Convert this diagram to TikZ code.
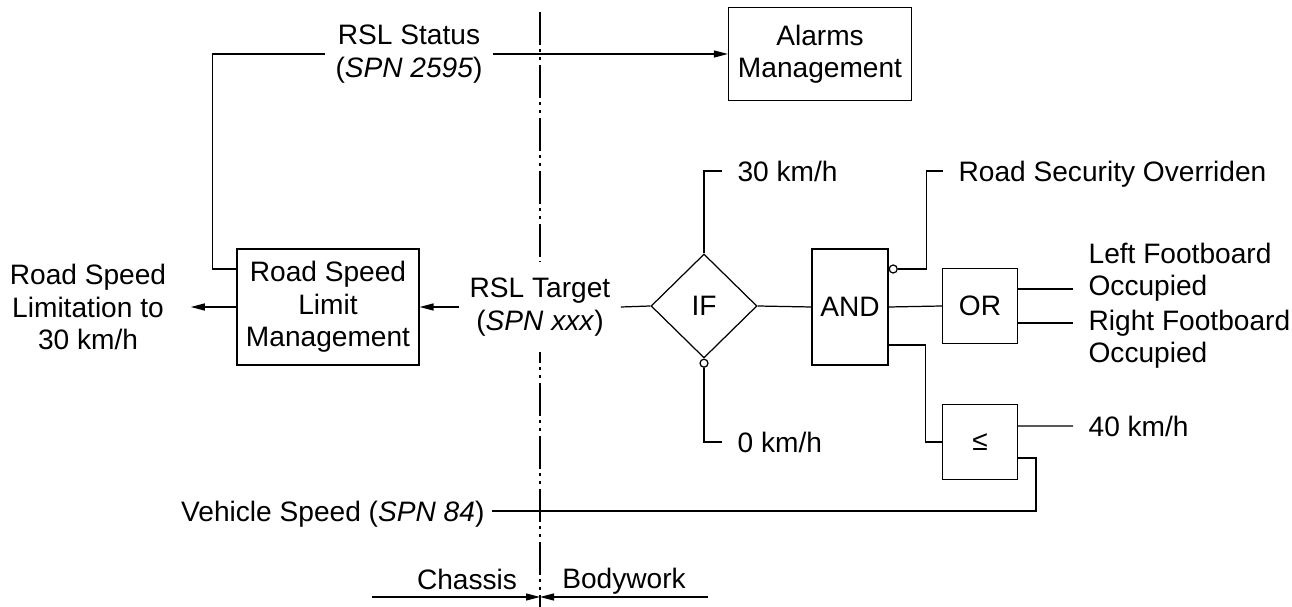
\documentclass[tikz,border=0pt]{standalone}
\usepackage{fontspec}
\setmainfont{Liberation Sans}
\usetikzlibrary{arrows.meta}
\usetikzlibrary{shapes.geometric}
\usetikzlibrary{positioning}

\begin{document}
\begin{tikzpicture}[x=0.02cm, y=-0.02cm, font=\fontsize{16}{18.5}\selectfont, line width=0.7pt,
    >={Triangle[length=0.28cm,width=0.14cm]}]
  \tikzset{block/.style={draw, align=center, inner sep=0pt},
           sig/.style={anchor=west, align=left, inner xsep=0.3cm, inner ysep=0pt},
           line1/.style={text height=11.5pt, text depth=0pt},
           neg/.style={draw, circle, fill=white, inner sep=0pt, minimum size=0.16cm},
           lbl/.style={align=center, inner xsep=0.2cm},
           border/.style={dash pattern=on 0.66cm off 0.09cm on 0.06cm off 0.09cm on 0.06cm off 0.1cm}}

  \useasboundingbox (0,0) rectangle (1292,607);

  \coordinate (top) at (540,12);
  \coordinate (bot) at (540,607);
  \draw[border] (top) -- (bot);

  \node[lbl] (status) at (409,54) {RSL Status\\(\textit{SPN 2595})};
  \node[block, minimum width=3.66cm, minimum height=1.86cm] (alarm) at (820,54) {Alarms\\Management};
  \node[block, minimum width=3.64cm, minimum height=2.32cm] (rslm) at (328,307) {Road Speed\\Limit\\Management};
  \node[lbl, inner xsep=0.48cm] (out) at (88,307) {Road Speed\\Limitation to\\30 km/h};
  \node[lbl, fill=white, minimum height=1.82cm] (target) at (540,307) {RSL Target\\(\textit{SPN xxx})};

  \node[draw, diamond, inner sep=0pt, minimum width=2.12cm, minimum height=2.08cm] (if) at (704,306) {IF};
  \node[block, minimum width=1.52cm, minimum height=2.32cm] (and) at (850,307) {AND};
  \node[block, minimum size=1.5cm] (or) at (980,306) {OR};
  \node[block, minimum size=1.5cm] (le) at (980,442) {≤};

  \node[sig, line1] (k30) at (722,171) {30 km/h};
  \node[sig, line1] (k0) at (722,442) {0 km/h};
  \node[sig, line1] (rso) at (943,171) {Road Security Overriden};
  \node[sig] (lfo) at (1073,272) {Left Footboard\\Occupied};
  \node[sig] (rfo) at (1073,339) {Right Footboard\\Occupied};
  \node[sig, line1] (k40) at (1073,426) {40 km/h};
  \node[line1, anchor=east, inner xsep=0.14cm] (vs) at (492,511) {Vehicle Speed (\textit{SPN 84})};

  \node[line1] (chassis) at (467,579) {Chassis};
  \node[line1] (body) at (624,578) {Bodywork};
  \coordinate (chl) at (372,597);
  \coordinate (bwr) at (708,597);
  \coordinate (mid) at (540,597);

  \draw[->] (rslm.west) -- (out.east);
  \draw ([yshift=0.76cm]rslm.west) -- ++(-0.48cm,0) |- (status.west);
  \draw[->] (status.east) -- (alarm.west);
  \draw[->] (target.west) -- (rslm.east);
  \draw (target.east) -- (if.west);
  \draw (if.east) -- (and.west);
  \draw (if.north) |- (k30.west);
  \node[neg, anchor=north] (ifneg) at (if.south) {};
  \draw (ifneg.south) |- (k0.west);
  \node[neg, anchor=west] (andneg) at ([yshift=0.76cm]and.east) {};
  \draw (andneg.east) -- ++(0.58cm,0) |- (rso.west);
  \draw (and.east) -- (or.west);
  \draw ([yshift=-0.76cm]and.east) -- ++(0.74cm,0) |- (le.west);
  \draw ([yshift=0.34cm]or.east) -- ([yshift=0.34cm]or.east -| lfo.west);
  \draw ([yshift=-0.34cm]or.east) -- ([yshift=-0.34cm]or.east -| rfo.west);
  \draw ([yshift=0.32cm]le.east) -- (k40.west);
  \draw ([yshift=-0.32cm]le.east) -- ++(0.36cm,0) |- (vs.east);
  \draw[->] (chl) -- (mid);
  \draw[->] (bwr) -- (mid);
\end{tikzpicture}
\end{document}
